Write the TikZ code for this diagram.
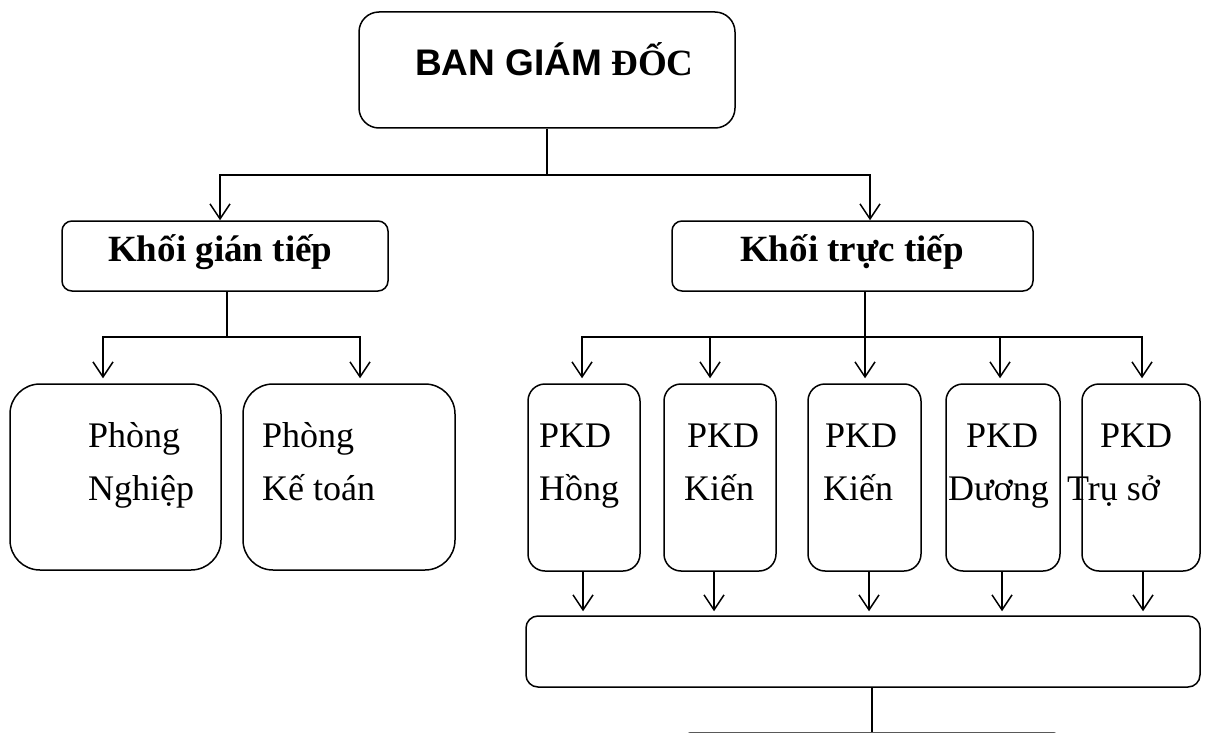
\documentclass[tikz,border=0pt]{standalone}
\usepackage{fontspec}
\setmainfont{Liberation Serif}
\newfontfamily\arialfont{Liberation Sans}
\usetikzlibrary{arrows.meta,calc}
\begin{document}
\begin{tikzpicture}[x=1pt,y=-1pt,
  box/.style={draw, line width=1.5pt, inner sep=0pt, rounded corners=#1},
  box/.default=15pt,
  conn/.style={line width=1.5pt},
  arr/.style={conn, -{Straight Barb[length=15pt,width=20pt]}},
  txt/.style={anchor=base west, inner sep=0pt, font=\fontsize{36}{42}\selectfont},
  btxt/.style={txt, font=\fontsize{37}{42}\selectfont\bfseries},
  ]
\useasboundingbox (0,0) rectangle (1205,733);
\clip (0,0) rectangle (1205,733);

% boxes
\node[box=20pt, minimum width=376pt, minimum height=116pt] (top) at (547,70) {};
\node[box=10pt, minimum width=326pt, minimum height=70pt] (kgt) at (225,256) {};
\node[box=10pt, minimum width=361pt, minimum height=70pt] (ktt) at (852.5,256) {};
\node[box=30pt, minimum width=211pt, minimum height=186pt] (pn) at (115.5,477) {};
\node[box=30pt, minimum width=212pt, minimum height=186pt] (pk) at (349,477) {};
\node[box=17pt, minimum width=112pt, minimum height=187pt] (p1) at (584,477.5) {};
\node[box=17pt, minimum width=112pt, minimum height=187pt] (p2) at (720,477.5) {};
\node[box=17pt, minimum width=113pt, minimum height=187pt] (p3) at (864.5,477.5) {};
\node[box=17pt, minimum width=114pt, minimum height=187pt] (p4) at (1003,477.5) {};
\node[box=17pt, minimum width=118pt, minimum height=187pt] (p5) at (1141,477.5) {};
\node[box=12pt, minimum width=674pt, minimum height=71pt] (wide) at (863,651.5) {};
\node[box=4pt, minimum width=372pt, minimum height=60pt] (bottom) at (872,763) {};

% texts
\node[btxt] (ttop) at (415,76) {{\arialfont BAN GIÁM} ĐỐC};
\node[btxt] (tkgt) at (108,261) {Khối gián tiếp};
\node[btxt] (tktt) at (740,261) {Khối trực tiếp};
\node[txt] (tpn1) at (88,447) {Phòng};
\node[txt] (tpn2) at (88,500) {Nghiệp};
\node[txt] (tpk1) at (262,447) {Phòng};
\node[txt] (tpk2) at (262,500) {Kế toán};
\node[txt] (t11) at (539,447) {PKD};
\node[txt] (t12) at (539,500) {Hồng};
\node[txt] (t21) at (687,447) {PKD};
\node[txt] (t22) at (684,500) {Kiến};
\node[txt] (t31) at (825,447) {PKD};
\node[txt] (t32) at (823,500) {Kiến};
\node[txt] (t41) at (966,447) {PKD};
\node[txt] (t42) at (948,500) {Dương};
\node[txt] (t51) at (1100,447) {PKD};
\node[txt] (t52) at (1067,500) {Trụ sở};

% connectors: top level
\coordinate (j1) at (547,175);
\draw[conn] (top.south) -- (j1);
\draw[arr] (j1) -| ($(kgt.north)+(-5,0)$);
\draw[arr] (j1) -| ($(ktt.north)+(17.5,0)$);

% indirect block
\coordinate (j2) at (227,337);
\draw[conn] (kgt.south -| j2) -- (j2);
\draw[arr] (j2) -| ($(pn.north)+(-12.5,-5)$);
\draw[arr] (j2) -| ($(pk.north)+(11,-5)$);

% direct block
\coordinate (j3) at (865,337);
\draw[conn] (ktt.south -| j3) -- (j3);
\draw[arr] (j3) -| ($(p1.north)+(-2,-5)$);
\draw[arr] (j3) -| ($(p2.north)+(-10,-5)$);
\draw[arr] (j3) -| ($(p3.north)+(0.5,-5)$);
\draw[arr] (j3) -| ($(p4.north)+(-3,-5)$);
\draw[arr] (j3) -| ($(p5.north)+(1,-5)$);

% to wide box
\draw[arr] ($(p1.south)+(-1,0)$) -- ($(p1.south |- wide.north)+(-1,-4)$);
\draw[arr] ($(p2.south)+(-6,0)$) -- ($(p2.south |- wide.north)+(-6,-4)$);
\draw[arr] ($(p3.south)+(4.5,0)$) -- ($(p3.south |- wide.north)+(4.5,-4)$);
\draw[arr] ($(p4.south)+(-1,0)$) -- ($(p4.south |- wide.north)+(-1,-4)$);
\draw[arr] ($(p5.south)+(2,0)$) -- ($(p5.south |- wide.north)+(2,-4)$);

\draw[conn] (wide.south -| bottom.north) -- (bottom.north);
\end{tikzpicture}
\end{document}
